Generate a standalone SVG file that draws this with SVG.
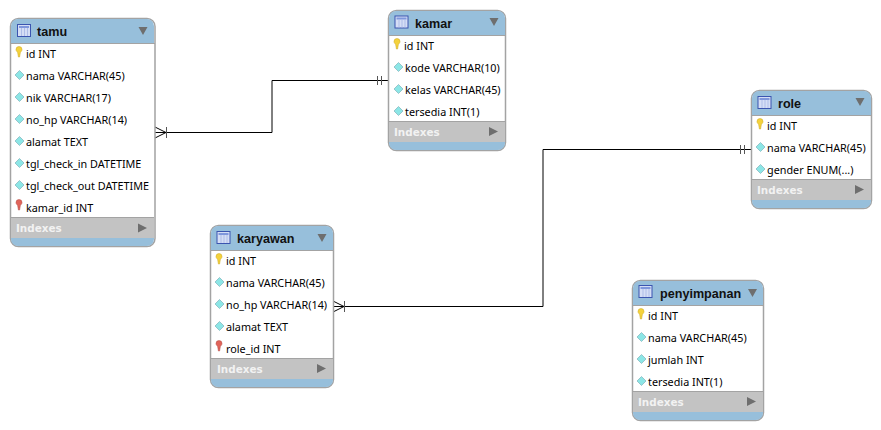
<svg xmlns="http://www.w3.org/2000/svg" width="881" height="430" viewBox="0 0 881 430">
<style>
.bg{fill:#fff}
.card{fill:#fff;stroke:#a3a3a3;stroke-width:1.5}
.hd{fill:#97bfdb}
.ix{fill:#c3c3c3}
.ln{fill:none;stroke:#a3a3a3;stroke-width:1}
.t{font:bold 12.6px "Liberation Sans",sans-serif;fill:#111}
.c{font:10.8px "Noto Sans","Open Sans",sans-serif;fill:#000}
.i{font:bold 10.4px "DejaVu Sans",sans-serif;fill:#f2f2f2}
.tri{fill:#6e6e6e}
.cn{fill:none;stroke:#000;stroke-width:1}
.bar{fill:none;stroke:#555;stroke-width:1}
</style>
<defs>
<g id="tbl"><rect x=".5" y=".5" width="13" height="12" fill="#d5def5" stroke="#3b55b0"/><path d="M2 2h10v2H2z" fill="#7f97dc"/><path d="M4.5 4v8M7.5 4v8M10.5 4v8" stroke="#aebde8"/></g>
<path id="key" d="M0 -4.500a3 3 0 0 1 6 0c0 1.500-1 2.200-1.600 2.800L3.600 3H2.400L1.600 -1.700C1 -2.300 0 -3 0 -4.500z" fill="#f4d23c" stroke="#c9a520" stroke-width=".5"/>
<path id="fk" d="M0 -4.500a3 3 0 0 1 6 0c0 1.500-1 2.200-1.600 2.800L3.600 3H2.400L1.600 -1.700C1 -2.300 0 -3 0 -4.500z" fill="#e0645a" stroke="#b04a44" stroke-width=".5"/>
<path id="dia" d="M4.500 -4.500L9 0L4.500 4.500L0 0z" fill="#8ce6e6" stroke="#7fb2ba" stroke-width=".7"/>
<path id="dn" class="tri" d="M0 0h9l-4.500 8z"/>
<path id="rt" class="tri" d="M0 0l9 4.500l-9 4.500z"/>
</defs>
<rect class="bg" width="881" height="430"/>
<g id="connectors">
<path class="cn" d="M155 132.500H272V80.500H389"/>
<path class="cn" d="M155 127L166 132.500L155 138"/><path class="bar" d="M166.500 127V138M377.500 76V85M381.500 76V85"/>
<path class="cn" d="M333 306.500H543V149.500H752"/>
<path class="cn" d="M333 301L344 306.500L333 312"/><path class="bar" d="M344.500 301V312M740.500 145V154M744.500 145V154"/>
</g>
<g id="tamu">
<rect class="card" x="10.500" y="18.500" width="144.500" height="228" rx="8"/>
<path class="hd" d="M11 43V26a7 7 0 0 1 7-7H147a7 7 0 0 1 7 7V43z"/>
<path class="ix" d="M11 218H154V238H11z"/>
<path class="hd" d="M11 238H154V239a7 7 0 0 1-7 7H18a7 7 0 0 1-7-7z"/>
<path class="ln" d="M10.500 43.500H155"/><path class="ln" d="M11 217.500H154"/>
<use href="#tbl" x="17" y="24"/><text class="t" x="37" y="36">tamu</text><use href="#dn" x="138.500" y="27"/>
<use href="#key" x="16" y="54"/><text class="c" x="26" y="58">id INT</text>
<use href="#dia" x="15" y="75"/><text class="c" x="26" y="80">nama VARCHAR(45)</text>
<use href="#dia" x="15" y="97"/><text class="c" x="26" y="102">nik VARCHAR(17)</text>
<use href="#dia" x="15" y="119"/><text class="c" x="26" y="124">no_hp VARCHAR(14)</text>
<use href="#dia" x="15" y="141"/><text class="c" x="26" y="146">alamat TEXT</text>
<use href="#dia" x="15" y="163"/><text class="c" x="26" y="168">tgl_check_in DATETIME</text>
<use href="#dia" x="15" y="185"/><text class="c" x="26" y="190">tgl_check_out DATETIME</text>
<use href="#fk" x="16" y="207"/><text class="c" x="26" y="212">kamar_id INT</text>
<text class="i" x="16" y="232">Indexes</text><use href="#rt" x="138" y="223.500"/>
</g>
<g id="kamar">
<rect class="card" x="388.500" y="10.500" width="117" height="140" rx="8"/>
<path class="hd" d="M389 35V18a7 7 0 0 1 7-7H498a7 7 0 0 1 7 7V35z"/>
<path class="ix" d="M389 122H505V142H389z"/>
<path class="hd" d="M389 142H505V143a7 7 0 0 1-7 7H396a7 7 0 0 1-7-7z"/>
<path class="ln" d="M388.500 35.500H505.500"/><path class="ln" d="M389 121.500H505"/>
<use href="#tbl" x="394.500" y="15.500"/><text class="t" x="415" y="28">kamar</text><use href="#dn" x="489.500" y="18"/>
<use href="#key" x="394" y="46"/><text class="c" x="404" y="50">id INT</text>
<use href="#dia" x="394" y="67"/><text class="c" x="405" y="72">kode VARCHAR(10)</text>
<use href="#dia" x="394" y="89"/><text class="c" x="405" y="94">kelas VARCHAR(45)</text>
<use href="#dia" x="394" y="111"/><text class="c" x="405" y="116">tersedia INT(1)</text>
<text class="i" x="394" y="136">Indexes</text><use href="#rt" x="489" y="127"/>
</g>
<g id="role">
<rect class="card" x="751.500" y="90.500" width="120" height="118" rx="8"/>
<path class="hd" d="M752 115V98a7 7 0 0 1 7-7H864a7 7 0 0 1 7 7V115z"/>
<path class="ix" d="M752 180H871V200H752z"/>
<path class="hd" d="M752 200H871V201a7 7 0 0 1-7 7H759a7 7 0 0 1-7-7z"/>
<path class="ln" d="M751.500 115.500H871.500"/><path class="ln" d="M752 179.500H871"/>
<use href="#tbl" x="757.500" y="96"/><text class="t" x="778" y="108">role</text><use href="#dn" x="855.500" y="98"/>
<use href="#key" x="757" y="126"/><text class="c" x="767" y="130">id INT</text>
<use href="#dia" x="756" y="147"/><text class="c" x="767" y="152">nama VARCHAR(45)</text>
<use href="#dia" x="756" y="169"/><text class="c" x="767" y="174">gender ENUM(...)</text>
<text class="i" x="757" y="194">Indexes</text><use href="#rt" x="855" y="185"/>
</g>
<g id="karyawan">
<rect class="card" x="210.500" y="225.500" width="123" height="162" rx="8"/>
<path class="hd" d="M211 250V233a7 7 0 0 1 7-7H326a7 7 0 0 1 7 7V250z"/>
<path class="ix" d="M211 359H333V379H211z"/>
<path class="hd" d="M211 379H333V380a7 7 0 0 1-7 7H218a7 7 0 0 1-7-7z"/>
<path class="ln" d="M210.500 250.500H333.500"/><path class="ln" d="M211 358.500H333"/>
<use href="#tbl" x="216.500" y="231"/><text class="t" x="237" y="243">karyawan</text><use href="#dn" x="317.500" y="234"/>
<use href="#key" x="216" y="261"/><text class="c" x="226" y="265">id INT</text>
<use href="#dia" x="215" y="282"/><text class="c" x="226" y="287">nama VARCHAR(45)</text>
<use href="#dia" x="215" y="304"/><text class="c" x="226" y="309">no_hp VARCHAR(14)</text>
<use href="#dia" x="215" y="326"/><text class="c" x="226" y="331">alamat TEXT</text>
<use href="#fk" x="216" y="348"/><text class="c" x="226" y="353">role_id INT</text>
<text class="i" x="217" y="373">Indexes</text><use href="#rt" x="317" y="364"/>
</g>
<g id="penyimpanan">
<rect class="card" x="632.500" y="280.500" width="131" height="140" rx="8"/>
<path class="hd" d="M633 305V288a7 7 0 0 1 7-7H756a7 7 0 0 1 7 7V305z"/>
<path class="ix" d="M633 392H763V412H633z"/>
<path class="hd" d="M633 412H763V413a7 7 0 0 1-7 7H640a7 7 0 0 1-7-7z"/>
<path class="ln" d="M632.500 305.500H763.500"/><path class="ln" d="M633 391.500H763"/>
<use href="#tbl" x="638.500" y="285"/><text class="t" x="660" y="298">penyimpanan</text><use href="#dn" x="748" y="289"/>
<use href="#key" x="638" y="316"/><text class="c" x="648" y="320">id INT</text>
<use href="#dia" x="637" y="337"/><text class="c" x="648" y="342">nama VARCHAR(45)</text>
<use href="#dia" x="637" y="359"/><text class="c" x="648" y="364">jumlah INT</text>
<use href="#dia" x="637" y="381"/><text class="c" x="648" y="386">tersedia INT(1)</text>
<text class="i" x="638" y="406">Indexes</text><use href="#rt" x="747" y="397"/>
</g>
</svg>
